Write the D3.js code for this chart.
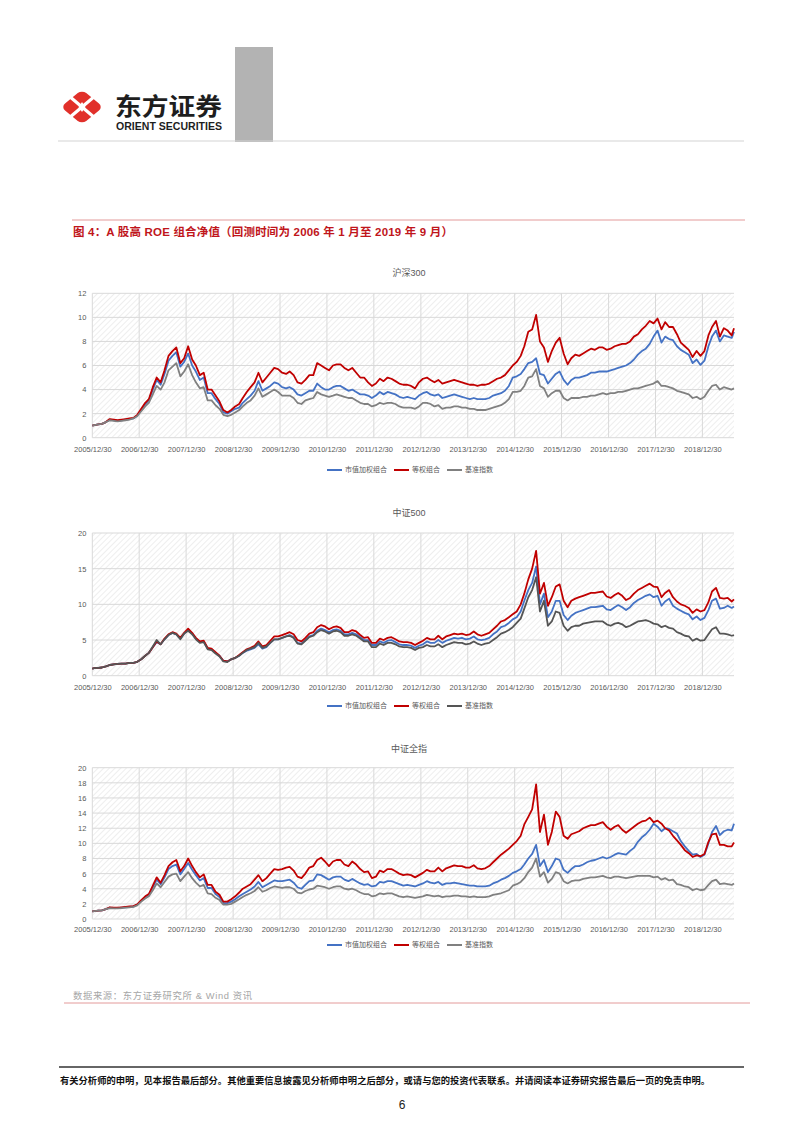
<!DOCTYPE html>
<html lang="zh">
<head>
<meta charset="utf-8">
<title>A股高ROE组合净值</title>
<script src="https://cdn.jsdelivr.net/npm/d3@7"></script>
<style>
  body { margin: 0; background: #fff; }
  svg { display: block; font-family: "Liberation Sans", "Noto Sans CJK SC", sans-serif; }
</style>
</head>
<body>
<svg id="page" width="802" height="1133"></svg>
<script>
// ---- data: net value, first point 2005/12/30, then mid-month 2006/01 .. 2019/08, last point 2019/09/02 ----
const seriesNames = ['市值加权组合', '等权组合', '基准指数'];
const yearTicks = d3.range(2005, 2019);   // labels at YYYY/12/30

const hs300Cap = [1.0,
  1.05, 1.1, 1.15, 1.3, 1.5, 1.45, 1.4, 1.45, 1.5, 1.55, 1.6, 1.85,
  2.3, 2.8, 3.1, 4.0, 4.8, 4.4, 5.3, 6.4, 6.8, 7.1, 5.9, 6.3,
  7.0, 6.0, 5.5, 4.8, 5.0, 3.7, 3.7, 3.2, 2.8, 2.1, 2.0, 2.2,
  2.4, 2.5, 2.9, 3.2, 3.5, 3.9, 4.7, 3.9, 4.1, 4.3, 4.6, 4.5,
  4.2, 4.1, 4.2, 4.0, 3.6, 3.5, 3.7, 3.9, 3.9, 4.5, 4.2, 4.0,
  4.0, 4.2, 4.3, 4.3, 4.1, 3.9, 4.0, 3.8, 3.6, 3.6, 3.5, 3.3,
  3.5, 3.8, 3.6, 3.8, 3.7, 3.6, 3.4, 3.3, 3.4, 3.3, 3.2, 3.5,
  3.7, 3.8, 3.6, 3.5, 3.6, 3.3, 3.4, 3.5, 3.6, 3.5, 3.4, 3.3,
  3.2, 3.3, 3.2, 3.2, 3.2, 3.3, 3.5, 3.6, 3.7, 3.9, 4.3, 5.0,
  5.1, 5.3, 5.7, 6.2, 6.3, 6.6, 5.3, 5.2, 4.5, 4.9, 5.3, 5.5,
  4.8, 4.4, 4.8, 5.0, 5.0, 5.1, 5.2, 5.4, 5.4, 5.5, 5.5, 5.5,
  5.6, 5.7, 5.8, 5.9, 6.0, 6.2, 6.5, 6.9, 7.2, 7.4, 7.8, 8.4,
  8.9, 7.9, 8.4, 8.2, 8.1, 7.6, 7.3, 7.1, 6.9, 6.2, 6.5, 6.05,
  6.4, 7.6, 8.4, 8.9, 8.0, 8.5, 8.4, 8.3, 8.8];
const hs300Eq = [1.0,
  1.05, 1.1, 1.15, 1.3, 1.55, 1.5, 1.45, 1.5, 1.55, 1.6, 1.65, 1.9,
  2.4, 2.9, 3.2, 4.2, 5.0, 4.6, 5.6, 6.8, 7.2, 7.5, 6.2, 6.6,
  7.6, 6.5, 6.0, 5.2, 5.4, 4.0, 4.0, 3.5, 3.0, 2.3, 2.1, 2.3,
  2.6, 2.8, 3.3, 3.8, 4.2, 4.6, 5.4, 4.6, 5.0, 5.4, 5.8, 5.7,
  5.4, 5.3, 5.5, 5.2, 4.6, 4.5, 4.8, 5.2, 5.2, 6.2, 6.0, 5.8,
  5.6, 6.0, 6.1, 6.1, 5.8, 5.6, 5.8, 5.4, 5.0, 5.0, 4.6, 4.3,
  4.5, 4.9, 4.7, 5.0, 4.9, 4.7, 4.5, 4.4, 4.4, 4.3, 4.1, 4.6,
  4.9, 5.0, 4.8, 4.6, 4.8, 4.5, 4.6, 4.7, 4.8, 4.7, 4.6, 4.5,
  4.4, 4.4, 4.3, 4.4, 4.4, 4.5, 4.7, 4.9, 5.0, 5.2, 5.6, 6.0,
  6.3, 6.8, 7.6, 8.8, 9.0, 10.2, 8.0, 7.5, 6.3, 7.2, 7.9, 8.3,
  7.0, 6.1, 6.6, 6.9, 6.8, 7.0, 7.2, 7.4, 7.3, 7.5, 7.5, 7.3,
  7.4, 7.6, 7.7, 7.8, 7.8, 8.0, 8.4, 8.6, 9.0, 9.3, 9.7, 9.5,
  9.9, 9.0, 9.6, 9.2, 9.2, 8.6, 7.9, 7.6, 7.3, 6.7, 7.2, 6.8,
  7.2, 8.5, 9.2, 9.7, 8.4, 9.1, 8.9, 8.5, 9.1];
const hs300Idx = [1.0,
  1.05, 1.1, 1.15, 1.3, 1.45, 1.4, 1.35, 1.4, 1.45, 1.5, 1.6, 1.8,
  2.2, 2.6, 2.9, 3.6, 4.3, 4.0, 4.6, 5.6, 5.9, 6.2, 5.1, 5.5,
  6.1, 5.2, 4.6, 4.1, 4.2, 3.1, 3.1, 2.7, 2.4, 1.9, 1.8, 1.9,
  2.1, 2.3, 2.6, 2.9, 3.1, 3.5, 4.1, 3.4, 3.6, 3.8, 4.0, 3.8,
  3.5, 3.5, 3.5, 3.3, 2.9, 2.8, 3.1, 3.2, 3.3, 3.8, 3.6, 3.5,
  3.4, 3.5, 3.6, 3.5, 3.4, 3.3, 3.3, 3.1, 2.9, 2.8, 2.8, 2.6,
  2.7, 2.9, 2.8, 2.9, 2.9, 2.8, 2.6, 2.5, 2.5, 2.5, 2.4, 2.6,
  2.9, 2.9, 2.8, 2.6, 2.7, 2.4, 2.5, 2.5, 2.6, 2.6, 2.5, 2.5,
  2.4, 2.4, 2.3, 2.3, 2.3, 2.4, 2.5, 2.6, 2.7, 2.9, 3.2, 3.8,
  3.8, 3.9, 4.3, 5.0, 5.1, 5.7, 4.3, 4.1, 3.4, 3.7, 3.9, 3.9,
  3.3, 3.1, 3.3, 3.3, 3.3, 3.4, 3.4, 3.5, 3.5, 3.6, 3.7, 3.6,
  3.7, 3.7, 3.8, 3.8, 3.9, 4.0, 4.1, 4.1, 4.2, 4.3, 4.4, 4.5,
  4.7, 4.3, 4.3, 4.2, 4.1, 3.9, 3.8, 3.7, 3.6, 3.3, 3.4, 3.2,
  3.4, 3.9, 4.3, 4.4, 4.0, 4.2, 4.1, 4.0, 4.1];

const zz500Cap = [1.0,
  1.05, 1.1, 1.15, 1.3, 1.5, 1.6, 1.65, 1.7, 1.7, 1.8, 1.8, 1.95,
  2.3, 2.8, 3.2, 4.0, 4.7, 4.4, 5.1, 5.7, 6.0, 5.8, 5.2, 5.9,
  6.4, 5.9, 5.2, 4.7, 4.8, 3.8, 3.7, 3.2, 2.8, 2.1, 2.0, 2.3,
  2.5, 2.8, 3.2, 3.5, 3.7, 3.9, 4.4, 3.8, 4.0, 4.6, 5.1, 5.1,
  5.3, 5.5, 5.7, 5.4, 4.6, 4.5, 5.0, 5.5, 5.7, 6.3, 6.6, 6.4,
  6.1, 6.4, 6.5, 6.3, 5.8, 5.8, 6.0, 5.8, 5.4, 5.0, 5.0, 4.3,
  4.3, 4.8, 4.6, 4.9, 5.0, 4.7, 4.4, 4.3, 4.3, 4.2, 3.9, 4.2,
  4.4, 4.8, 4.6, 4.6, 5.0, 4.6, 4.9, 5.1, 5.3, 5.2, 5.3, 5.1,
  5.2, 5.5, 5.1, 5.0, 5.1, 5.3, 5.8, 6.2, 6.8, 7.0, 7.4, 7.9,
  8.2, 9.0, 10.5, 12.0, 13.0, 15.3, 10.0, 11.5, 8.2, 9.0, 10.5, 10.5,
  8.5, 7.8, 8.4, 8.8, 9.0, 9.2, 9.4, 9.6, 9.6, 9.7, 9.8, 9.3,
  9.2, 9.6, 9.9, 9.6, 9.2, 9.6, 10.2, 10.6, 10.9, 11.2, 11.4, 11.0,
  11.2, 9.8, 10.4, 10.8, 9.8, 9.4, 9.1, 8.8, 8.6, 7.9, 8.3, 7.8,
  8.1, 9.2, 10.5, 10.8, 9.4, 9.5, 9.8, 9.5, 9.7];
const zz500Eq = [1.0,
  1.05, 1.1, 1.15, 1.3, 1.5, 1.6, 1.65, 1.7, 1.7, 1.8, 1.8, 1.95,
  2.3, 2.8, 3.2, 4.0, 4.8, 4.4, 5.2, 5.8, 6.1, 5.9, 5.3, 6.0,
  6.6, 6.0, 5.3, 4.8, 4.9, 3.9, 3.8, 3.3, 2.8, 2.1, 2.0, 2.3,
  2.5, 2.9, 3.3, 3.7, 3.9, 4.2, 4.8, 4.1, 4.3, 4.9, 5.5, 5.5,
  5.7, 5.9, 6.1, 5.8, 5.0, 4.8, 5.3, 5.9, 6.1, 6.8, 7.1, 6.9,
  6.5, 6.8, 6.9, 6.7, 6.1, 6.1, 6.4, 6.2, 5.7, 5.3, 5.4, 4.6,
  4.6, 5.2, 5.0, 5.3, 5.4, 5.1, 4.8, 4.7, 4.7, 4.6, 4.3, 4.6,
  4.9, 5.3, 5.1, 5.1, 5.6, 5.1, 5.5, 5.7, 5.9, 5.8, 5.9, 5.7,
  5.8, 6.2, 5.8, 5.6, 5.8, 6.0, 6.5, 7.0, 7.6, 7.8, 8.2, 8.6,
  9.0, 10.0, 11.5, 13.5, 15.0, 17.5, 11.5, 13.0, 9.8, 11.0, 12.5, 12.8,
  10.5, 9.6, 10.5, 10.8, 11.0, 11.2, 11.4, 11.6, 11.6, 11.7, 11.8, 11.1,
  10.9, 11.3, 11.6, 11.2, 10.6, 10.9, 11.5, 12.0, 12.3, 12.6, 12.9, 12.5,
  12.4, 11.0, 11.6, 12.0, 11.0, 10.4, 10.0, 9.8, 9.5, 8.8, 9.3, 9.0,
  9.2, 10.3, 11.8, 12.3, 10.9, 10.8, 10.9, 10.4, 10.7];
const zz500Idx = [1.0,
  1.05, 1.1, 1.15, 1.3, 1.5, 1.6, 1.65, 1.7, 1.7, 1.8, 1.8, 1.95,
  2.3, 2.8, 3.2, 4.1, 5.0, 4.4, 5.1, 5.7, 6.0, 5.8, 5.1, 5.9,
  6.3, 5.8, 5.1, 4.6, 4.7, 3.7, 3.6, 3.1, 2.7, 2.0, 1.9, 2.3,
  2.5, 2.8, 3.2, 3.6, 3.8, 4.0, 4.6, 3.9, 4.1, 4.6, 5.1, 5.1,
  5.3, 5.5, 5.6, 5.3, 4.5, 4.4, 4.9, 5.4, 5.6, 6.1, 6.4, 6.2,
  5.9, 6.2, 6.3, 6.1, 5.6, 5.6, 5.8, 5.6, 5.2, 4.8, 4.8, 4.0,
  4.0, 4.5, 4.3, 4.6, 4.6, 4.4, 4.1, 4.0, 4.0, 3.9, 3.6, 3.9,
  4.0, 4.3, 4.1, 4.1, 4.4, 4.0, 4.3, 4.5, 4.7, 4.6, 4.6, 4.4,
  4.5, 4.8, 4.5, 4.3, 4.5, 4.6, 5.0, 5.4, 5.9, 6.1, 6.4, 6.8,
  7.4, 8.0, 9.4, 11.0, 12.0, 13.8, 9.0, 10.5, 7.0, 7.6, 9.0, 8.8,
  7.0, 6.3, 6.8, 7.0, 7.0, 7.3, 7.4, 7.5, 7.6, 7.6, 7.6, 7.2,
  7.0, 7.3, 7.4, 7.2, 6.8, 7.0, 7.3, 7.6, 7.7, 7.8, 7.6, 7.3,
  7.2, 6.8, 7.0, 6.7, 6.6, 6.1, 5.9, 5.6, 5.5, 4.9, 5.2, 4.9,
  5.0, 5.8, 6.5, 6.8, 5.9, 5.9, 5.8, 5.6, 5.7];

const zzqzCap = [1.0,
  1.05, 1.1, 1.15, 1.3, 1.5, 1.45, 1.45, 1.5, 1.55, 1.6, 1.65, 1.9,
  2.4, 2.9, 3.2, 4.2, 5.2, 4.6, 5.5, 6.6, 7.0, 7.2, 5.9, 6.6,
  7.4, 6.5, 5.8, 5.1, 5.4, 4.1, 4.1, 3.3, 2.9, 2.1, 2.1, 2.3,
  2.6, 3.0, 3.3, 3.6, 3.9, 4.3, 4.9, 4.2, 4.5, 4.8, 5.1, 5.0,
  5.0, 5.1, 5.2, 4.8, 4.2, 4.0, 4.5, 5.0, 5.1, 5.9, 5.8, 5.5,
  5.2, 5.5, 5.6, 5.6, 5.2, 5.0, 5.3, 5.0, 4.7, 4.5, 4.6, 4.3,
  4.4, 4.9, 4.8, 5.0, 5.0, 4.8, 4.6, 4.4, 4.5, 4.4, 4.3, 4.5,
  4.7, 5.0, 4.8, 4.7, 4.9, 4.5, 4.7, 4.7, 4.8, 4.7, 4.6, 4.5,
  4.4, 4.4, 4.3, 4.3, 4.3, 4.4, 4.7, 4.9, 5.2, 5.4, 5.7, 6.1,
  6.3, 6.6, 7.2, 8.0, 8.6, 9.8, 7.0, 7.8, 6.2, 7.0, 8.0, 7.8,
  6.5, 6.1, 6.6, 7.0, 7.0, 7.2, 7.5, 7.7, 7.8, 8.0, 8.2, 8.0,
  8.2, 8.5, 8.7, 8.6, 8.5, 9.0, 9.4, 10.2, 10.8, 11.2, 11.8, 12.6,
  12.2, 11.6, 12.0, 11.9, 11.6, 11.3, 10.3, 9.6, 9.0, 8.5, 8.6, 8.2,
  8.5, 10.0, 11.5, 12.3, 11.1, 11.6, 11.8, 11.7, 12.6];
const zzqzEq = [1.0,
  1.05, 1.1, 1.15, 1.3, 1.55, 1.5, 1.5, 1.55, 1.6, 1.65, 1.7, 1.95,
  2.5, 3.0, 3.3, 4.4, 5.5, 4.8, 5.8, 7.0, 7.5, 7.8, 6.3, 7.0,
  8.0, 7.0, 6.2, 5.5, 5.9, 4.5, 4.5, 3.6, 3.2, 2.3, 2.3, 2.6,
  3.0, 3.5, 4.0, 4.3, 4.6, 5.2, 5.8, 5.0, 5.4, 6.0, 6.6, 6.5,
  6.6, 6.8, 6.9, 6.4, 5.6, 5.4, 6.0, 6.8, 7.0, 7.8, 8.1, 7.6,
  7.0, 7.6, 7.8, 7.8, 7.2, 7.0, 7.6, 7.2, 6.6, 6.2, 6.3, 5.4,
  5.6, 6.4, 6.2, 6.6, 6.6, 6.3, 6.0, 5.8, 5.9, 5.8, 5.5, 5.8,
  6.1, 6.5, 6.3, 6.3, 6.8, 6.3, 6.7, 6.9, 7.1, 7.0, 7.0, 6.8,
  6.8, 7.1, 6.7, 6.6, 6.7, 7.0, 7.5, 8.0, 8.5, 8.9, 9.3, 9.8,
  10.3, 11.0, 12.5, 13.5, 14.5, 17.8, 11.5, 13.8, 9.8, 11.5, 14.2, 13.5,
  11.0, 10.6, 11.2, 11.4, 11.6, 12.0, 12.2, 12.4, 12.4, 12.6, 12.8, 12.2,
  11.8, 12.2, 12.4, 11.8, 11.4, 11.8, 12.2, 12.6, 12.9, 13.0, 13.4, 12.8,
  13.0, 12.6, 12.0, 11.7, 11.0, 10.4, 9.8, 9.1, 8.7, 8.2, 8.4, 8.3,
  8.6, 10.2, 11.2, 11.3, 9.8, 9.8, 9.6, 9.6, 10.1];
const zzqzIdx = [1.0,
  1.05, 1.1, 1.15, 1.3, 1.45, 1.4, 1.4, 1.45, 1.5, 1.55, 1.6, 1.8,
  2.3, 2.7, 3.0, 3.8, 4.7, 4.2, 4.9, 5.6, 5.9, 6.0, 5.0, 5.6,
  6.2, 5.4, 4.8, 4.3, 4.5, 3.4, 3.3, 2.8, 2.5, 1.9, 1.9, 2.0,
  2.3, 2.6, 2.9, 3.2, 3.4, 3.7, 4.2, 3.6, 3.8, 4.1, 4.3, 4.2,
  4.1, 4.2, 4.2, 4.0, 3.5, 3.4, 3.7, 3.9, 4.0, 4.4, 4.3, 4.2,
  4.0, 4.2, 4.3, 4.3, 4.0, 3.9, 4.0, 3.8, 3.5, 3.3, 3.3, 3.0,
  3.1, 3.4, 3.3, 3.4, 3.4, 3.2, 3.0, 2.9, 3.0, 2.9, 2.8, 2.9,
  3.0, 3.2, 3.1, 3.0, 3.1, 2.9, 3.0, 3.0, 3.1, 3.1, 3.0, 3.0,
  2.9, 3.0, 2.9, 2.9, 2.9, 3.0, 3.2, 3.3, 3.4, 3.6, 3.8, 4.4,
  4.6, 4.9, 5.4, 6.2, 6.8, 8.0, 5.6, 6.2, 4.8, 5.3, 6.2, 6.0,
  5.0, 4.7, 5.0, 5.1, 5.1, 5.3, 5.4, 5.5, 5.5, 5.6, 5.7, 5.5,
  5.4, 5.6, 5.6, 5.5, 5.4, 5.5, 5.6, 5.7, 5.7, 5.7, 5.7, 5.5,
  5.6, 5.2, 5.4, 5.1, 5.2, 4.6, 4.5, 4.3, 4.2, 3.8, 4.0, 3.8,
  3.9, 4.5, 5.0, 5.2, 4.6, 4.7, 4.6, 4.5, 4.7];

// ---- page ----
const svg = d3.select('#page');

const dates = [new Date(2005, 11, 30)]
  .concat(d3.range(164).map(i => new Date(2006, i, 15)))
  .concat([new Date(2019, 8, 2)]);

const defs = svg.append('defs');
const pat = defs.append('pattern').attr('id', 'hatch')
  .attr('width', 4).attr('height', 4)
  .attr('patternUnits', 'userSpaceOnUse')
  .attr('patternTransform', 'rotate(45)');
pat.append('rect').attr('width', 4).attr('height', 4).attr('fill', '#fff');
pat.append('line').attr('x1', 0).attr('y1', 0).attr('x2', 0).attr('y2', 4)
  .attr('stroke', '#e6e6e6').attr('stroke-width', 1.3);

// header
const logo = svg.append('g').attr('transform', 'translate(82,107)');
logo.append('rect').attr('x', -15).attr('y', -15).attr('width', 30).attr('height', 30)
  .attr('rx', 6).attr('fill', '#e1302a').attr('transform', 'scale(1,0.82) rotate(45)');
logo.append('path').attr('d', 'M-13,-11L13,11M-13,11L13,-11')
  .attr('stroke', '#fff').attr('stroke-width', 3.2);
logo.append('path').attr('d', 'M0,-5L3.5,0L0,5L-3.5,0Z').attr('fill', '#fff');

svg.append('text').attr('x', 115).attr('y', 114.5).text('东方证券')
  .attr('font-family', 'Noto Sans CJK SC').attr('font-weight', 700)
  .attr('font-size', 24).attr('fill', '#1e1e1e')
  .attr('textLength', 107).attr('lengthAdjust', 'spacingAndGlyphs');
svg.append('text').attr('x', 116).attr('y', 129.5).text('ORIENT SECURITIES')
  .attr('font-weight', 700).attr('font-size', 10.5).attr('fill', '#1e1e1e')
  .attr('textLength', 106).attr('lengthAdjust', 'spacingAndGlyphs');
svg.append('rect').attr('x', 235).attr('y', 47).attr('width', 38).attr('height', 95).attr('fill', '#b3b3b3');
svg.append('line').attr('x1', 58).attr('x2', 744).attr('y1', 141).attr('y2', 141)
  .attr('stroke', '#d4d4d4').attr('stroke-width', 1.2);

// figure title
svg.append('line').attr('x1', 72).attr('x2', 745).attr('y1', 220).attr('y2', 220)
  .attr('stroke', '#e39a9a').attr('stroke-width', 1);
svg.append('text').attr('x', 73).attr('y', 236)
  .text('图 4：A 股高 ROE 组合净值（回测时间为 2006 年 1 月至 2019 年 9 月）')
  .attr('font-weight', 700).attr('font-size', 11.5).attr('fill', '#c0151b')
  .attr('textLength', 380).attr('lengthAdjust', 'spacing');

// charts
const x = d3.scaleTime()
  .domain([new Date(2005, 11, 30), new Date(2019, 8, 2)])
  .range([92.3, 734]);
const xTicks = yearTicks.map(yr => new Date(yr, 11, 30));

const panels = [
  {title: '沪深300', data: [hs300Cap, hs300Eq, hs300Idx], top: 293.3, bottom: 437.7, max: 12, step: 2,
   titleY: 273, labelY: 449, legendY: 470, idxColor: '#808080'},
  {title: '中证500', data: [zz500Cap, zz500Eq, zz500Idx], top: 533, bottom: 675.7, max: 20, step: 5,
   titleY: 513, labelY: 687, legendY: 706, idxColor: '#555555'},
  {title: '中证全指', data: [zzqzCap, zzqzEq, zzqzIdx], top: 767.7, bottom: 919, max: 20, step: 2,
   titleY: 749, labelY: 929, legendY: 945, idxColor: '#808080'}
];

panels.forEach(p => {
  const colors = ['#4472c4', '#c00000', p.idxColor];
  const y = d3.scaleLinear().domain([0, p.max]).range([p.bottom, p.top]);
  const yTicks = d3.range(0, p.max + 0.001, p.step);
  const g = svg.append('g');

  g.append('text').attr('x', 409).attr('y', p.titleY).attr('dy', '0.35em')
    .attr('text-anchor', 'middle').attr('font-size', 9).attr('fill', '#595959').text(p.title);

  g.append('rect').attr('x', x.range()[0]).attr('y', p.top)
    .attr('width', x.range()[1] - x.range()[0]).attr('height', p.bottom - p.top)
    .attr('fill', 'url(#hatch)');

  // grid
  g.append('g').selectAll('line').data(yTicks).join('line')
    .attr('x1', x.range()[0]).attr('x2', x.range()[1])
    .attr('y1', d => y(d)).attr('y2', d => y(d))
    .attr('stroke', '#d9d9d9').attr('stroke-width', 1);
  g.append('g').selectAll('line').data(xTicks).join('line')
    .attr('x1', d => x(d)).attr('x2', d => x(d))
    .attr('y1', p.top).attr('y2', p.bottom)
    .attr('stroke', '#d9d9d9').attr('stroke-width', 1);

  // axes
  const ya = g.append('g').attr('transform', `translate(${x.range()[0]},0)`)
    .call(d3.axisLeft(y).tickValues(yTicks).tickSize(0).tickPadding(6).tickFormat(d3.format('d')));
  ya.select('.domain').remove();
  ya.selectAll('text').attr('font-size', 7.5).attr('fill', '#595959').attr('font-family', null);

  const xa = g.append('g').attr('transform', `translate(0,${p.bottom})`)
    .call(d3.axisBottom(x).tickValues(xTicks).tickSize(0)
      .tickPadding(p.labelY - 2.7 - p.bottom).tickFormat(d3.timeFormat('%Y/%m/%d')));
  xa.select('.domain').remove();
  xa.selectAll('text').attr('font-size', 7.5).attr('fill', '#595959').attr('font-family', null);

  // lines
  const line = d3.line().x((d, i) => x(dates[i])).y(d => y(d));
  p.data.forEach((s, k) => {
    g.append('path').datum(s).attr('d', line)
      .attr('fill', 'none').attr('stroke', colors[k])
      .attr('stroke-width', 1.8).attr('stroke-linejoin', 'round');
  });

  // legend
  let lx = 327;
  seriesNames.forEach((name, k) => {
    g.append('line').attr('x1', lx).attr('x2', lx + 15)
      .attr('y1', p.legendY).attr('y2', p.legendY)
      .attr('stroke', colors[k]).attr('stroke-width', 2);
    const t = g.append('text').attr('x', lx + 18).attr('y', p.legendY).attr('dy', '0.35em')
      .attr('font-size', 7).attr('fill', '#595959').text(name);
    lx += 18 + t.node().getComputedTextLength() + 7;
  });
});

// source + footer
svg.append('text').attr('x', 73).attr('y', 996).attr('dy', '0.35em')
  .text('数据来源：东方证券研究所 & Wind 资讯')
  .attr('font-size', 9.3).attr('fill', '#a6a6a6')
  .attr('textLength', 179).attr('lengthAdjust', 'spacing');
svg.append('line').attr('x1', 64).attr('x2', 750).attr('y1', 1003).attr('y2', 1003)
  .attr('stroke', '#e39a9a').attr('stroke-width', 1);

svg.append('line').attr('x1', 59).attr('x2', 744).attr('y1', 1067).attr('y2', 1067)
  .attr('stroke', '#333').attr('stroke-width', 1.3);
svg.append('text').attr('x', 60).attr('y', 1081).attr('dy', '0.35em')
  .text('有关分析师的申明，见本报告最后部分。其他重要信息披露见分析师申明之后部分，或请与您的投资代表联系。并请阅读本证券研究报告最后一页的免责申明。')
  .attr('font-weight', 700).attr('font-size', 9.4).attr('fill', '#111')
  .attr('textLength', 650).attr('lengthAdjust', 'spacingAndGlyphs');
svg.append('text').attr('x', 402).attr('y', 1105).attr('dy', '0.35em')
  .attr('text-anchor', 'middle').attr('font-size', 12).attr('fill', '#222').text('6');
</script>
</body>
</html>
